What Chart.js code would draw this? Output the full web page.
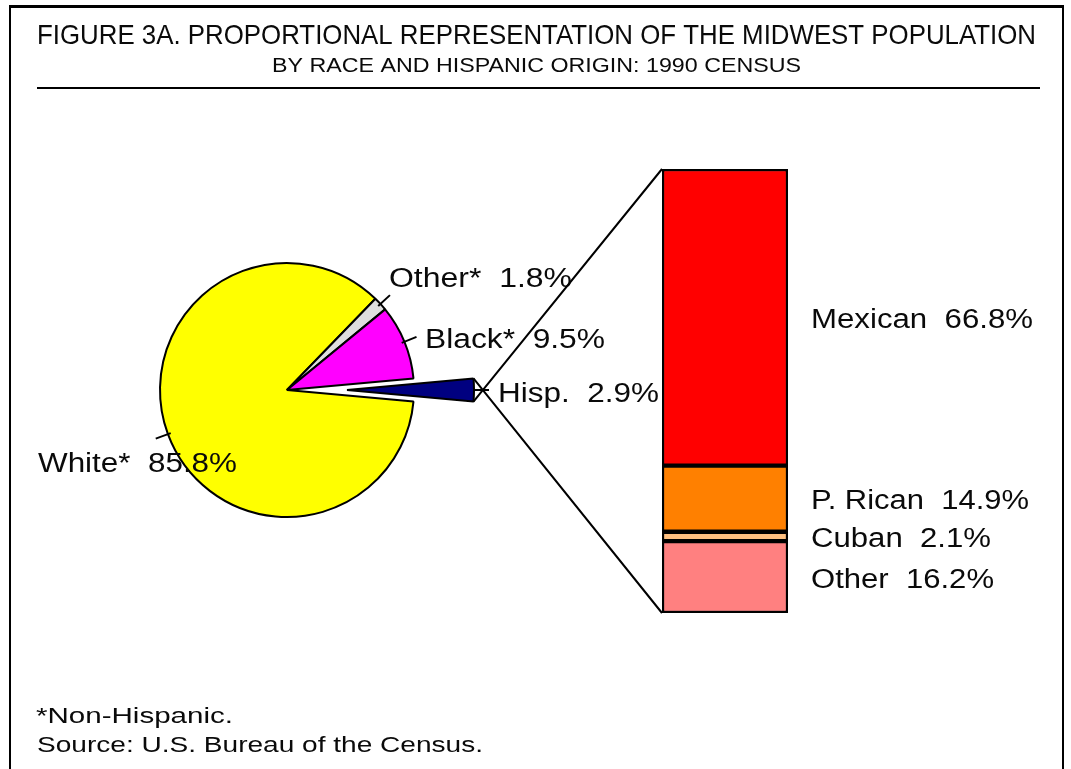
<!DOCTYPE html>
<html><head><meta charset="utf-8">
<script src="https://cdn.jsdelivr.net/npm/chart.js@4/dist/chart.umd.min.js"></script>
<style>
html,body{margin:0;padding:0;background:#fff;}
#wrap{position:relative;width:1071px;height:769px;overflow:hidden;background:#fff;}
#frame{position:absolute;left:9px;top:5px;width:1051px;height:800px;border:2px solid #000;border-top-width:3px;border-bottom:none;}
canvas{position:absolute;left:0;top:0;}
</style></head><body>
<div id="wrap">
<div id="frame"></div>
<canvas id="pie" width="1071" height="769"></canvas>
<canvas id="hisp" width="1071" height="769"></canvas>
<canvas id="bar" width="1071" height="769"></canvas>
</div>
<script>
// ---- data ----
const titleLines = ['FIGURE 3A. PROPORTIONAL REPRESENTATION OF THE MIDWEST POPULATION', 'BY RACE AND HISPANIC ORIGIN: 1990 CENSUS'];
const raceCategories = ['White*', 'Other*', 'Black*', 'Hisp.'];
const raceValues = [85.8, 1.8, 9.5, 2.9];
const hispCategories = ['Mexican', 'P. Rican', 'Cuban', 'Other'];
const hispValues = [66.8, 14.9, 2.1, 16.2];
const footnotes = ['*Non-Hispanic.', 'Source: U.S. Bureau of the Census.'];

// ---- styles ----
const raceColors = ['#ffff00', '#dedede', '#ff00ff', '#000080'];
const hispColors = ['#ff0000', '#ff8000', '#ffc080', '#ff8080'];
const HISP = raceCategories.indexOf('Hisp.');
const FONT = '"Liberation Sans", Arial, Helvetica, sans-serif';
const TEXT = '#0a0a0a';

function fitText(ctx, text, x, y, size, width) {
  ctx.save();
  ctx.font = size + 'px ' + FONT;
  ctx.textBaseline = 'alphabetic';
  ctx.textAlign = 'left';
  const w = ctx.measureText(text).width;
  ctx.translate(x, y + size * 0.358);
  ctx.scale(width / w, 1);
  ctx.fillStyle = TEXT;
  ctx.fillText(text, 0, 0);
  ctx.restore();
}
function fmt(label, v) { return label + '  ' + v.toFixed(1) + '%'; }

const rotation = 90 + raceValues[HISP] * 1.8; // center Hisp slice on 3 o'clock

// label layout for pie slices (left x, center y, text width)
const pieLabelPos = [
  {x: 38, y: 462, w: 199},
  {x: 389, y: 277, w: 183},
  {x: 425, y: 338, w: 180},
  {x: 498, y: 392, w: 161}
];

const pageDecor = {
  id: 'pageDecor',
  afterDraw(chart) {
    const ctx = chart.ctx;
    fitText(ctx, titleLines[0], 37, 34, 28, 999);
    fitText(ctx, titleLines[1], 272, 65, 20, 529);
    ctx.save();
    ctx.strokeStyle = '#000'; ctx.lineWidth = 2;
    ctx.beginPath(); ctx.moveTo(37, 88); ctx.lineTo(1040, 88); ctx.stroke();
    ctx.restore();
    fitText(ctx, footnotes[0], 36, 715, 22, 197);
    fitText(ctx, footnotes[1], 37, 744, 22, 446);
  }
};

function tick(ctx, cx, cy, ang, r1, r2) {
  ctx.beginPath();
  ctx.moveTo(cx + Math.cos(ang) * r1, cy + Math.sin(ang) * r1);
  ctx.lineTo(cx + Math.cos(ang) * r2, cy + Math.sin(ang) * r2);
  ctx.stroke();
}

const pieLabels = {
  id: 'pieLabels',
  afterDraw(chart) {
    const ctx = chart.ctx;
    const arcs = chart.getDatasetMeta(0).data;
    ctx.save();
    ctx.strokeStyle = '#000'; ctx.lineWidth = 2;
    arcs.forEach((a, i) => {
      if (i === HISP) return;
      const mid = (a.startAngle + a.endAngle) / 2;
      tick(ctx, a.x, a.y, mid, a.outerRadius - 3, a.outerRadius + 13);
    });
    ctx.restore();
    arcs.forEach((a, i) => {
      if (i === HISP) return;
      const p = pieLabelPos[i];
      fitText(ctx, fmt(raceCategories[i], raceValues[i]), p.x, p.y, 27, p.w);
    });
  }
};

const hispLabels = {
  id: 'hispLabels',
  afterDraw(chart) {
    const ctx = chart.ctx;
    const a = chart.getDatasetMeta(0).data[HISP];
    const mid = (a.startAngle + a.endAngle) / 2;
    ctx.save();
    ctx.strokeStyle = '#000'; ctx.lineWidth = 2;
    tick(ctx, a.x, a.y, mid, a.outerRadius, a.outerRadius + 15);
    ctx.restore();
    const p = pieLabelPos[HISP];
    fitText(ctx, fmt(raceCategories[HISP], raceValues[HISP]), p.x, p.y, 27, p.w);
  }
};

const common = {
  responsive: false, animation: false, events: [],
  plugins: {legend: {display: false}, tooltip: {enabled: false}}
};

const pieChart = new Chart(document.getElementById('pie'), {
  type: 'pie',
  data: {labels: raceCategories, datasets: [{
    data: raceValues,
    backgroundColor: raceColors.map((c, i) => i === HISP ? 'rgba(0,0,0,0)' : c),
    borderColor: '#000',
    borderWidth: raceValues.map((v, i) => i === HISP ? 0 : 2),
    hoverBorderWidth: 2, hoverOffset: 0, offset: 0
  }]},
  options: Object.assign({}, common, {
    rotation: rotation,
    layout: {padding: {left: 159, top: 262, right: 656, bottom: 251}}
  }),
  plugins: [pageDecor, pieLabels]
});

const hispChart = new Chart(document.getElementById('hisp'), {
  type: 'pie',
  data: {labels: raceCategories, datasets: [{
    data: raceValues,
    backgroundColor: raceColors.map((c, i) => i === HISP ? c : 'rgba(0,0,0,0)'),
    borderColor: raceValues.map((v, i) => i === HISP ? '#000' : 'rgba(0,0,0,0)'),
    borderWidth: raceValues.map((v, i) => i === HISP ? 2 : 0),
    hoverBorderWidth: 2, hoverOffset: 0, offset: 0
  }]},
  options: Object.assign({}, common, {
    rotation: rotation,
    layout: {padding: {left: 219, top: 262, right: 596, bottom: 251}}
  }),
  plugins: [hispLabels]
});

const barDecor = {
  id: 'barDecor',
  afterDraw(chart) {
    const ctx = chart.ctx;
    // connector lines from exploded slice to bar
    const a = hispChart.getDatasetMeta(0).data[HISP];
    const top = chart.getDatasetMeta(0).data[0];
    const bot = chart.getDatasetMeta(hispValues.length - 1).data[0];
    const left = top.x - top.width / 2;
    const yTop = Math.min(top.y, top.base);
    const yBot = Math.max(bot.y, bot.base);
    ctx.save();
    ctx.strokeStyle = '#000'; ctx.lineWidth = 2;
    ctx.beginPath();
    ctx.moveTo(a.x + Math.cos(a.startAngle) * a.outerRadius, a.y + Math.sin(a.startAngle) * a.outerRadius);
    ctx.lineTo(left, yBot);
    ctx.moveTo(a.x + Math.cos(a.endAngle) * a.outerRadius, a.y + Math.sin(a.endAngle) * a.outerRadius);
    ctx.lineTo(left, yTop);
    ctx.stroke();
    ctx.restore();
    const widths = [222, 218, 180, 183];
    hispCategories.forEach((c, i) => {
      const el = chart.getDatasetMeta(i).data[0];
      const cy = (el.y + el.base) / 2;
      fitText(ctx, fmt(c, hispValues[i]), 811, cy + 1, 27, widths[i]);
    });
  }
};

const barChart = new Chart(document.getElementById('bar'), {
  type: 'bar',
  data: {labels: ['Hispanic'], datasets: hispCategories.map((c, i) => ({
    label: c, data: [hispValues[i]],
    backgroundColor: hispColors[i], borderColor: '#000', borderWidth: 2.5,
    borderSkipped: false, categoryPercentage: 1, barPercentage: 1
  }))},
  options: Object.assign({}, common, {
    layout: {padding: {left: 662, right: 283, top: 169, bottom: 156}},
    scales: {
      x: {display: false, stacked: true},
      y: {display: false, stacked: true, min: 0, max: 100, reverse: true}
    }
  }),
  plugins: [barDecor]
});
</script>
</body></html>
